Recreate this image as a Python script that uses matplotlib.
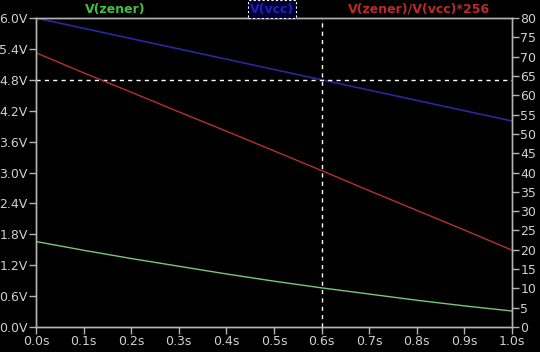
import numpy as np
import matplotlib
matplotlib.use("Agg")
import matplotlib.pyplot as plt

# -----------------------------
# 数据
# -----------------------------
t = [0.0, 0.1, 0.2, 0.3, 0.4, 0.5, 0.6, 0.7, 0.8, 0.9, 1.0]
v_zener = [1.66, 1.49, 1.33, 1.18, 1.03, 0.89, 0.76, 0.64, 0.52, 0.41, 0.31]
v_vcc = [6.0, 5.8, 5.6, 5.4, 5.2, 5.0, 4.8, 4.6, 4.4, 4.2, 4.0]
ratio_256 = [71.0, 65.8, 60.8, 55.7, 50.7, 45.6, 40.5, 35.3, 30.2, 25.1, 19.9]

x_ticks = [0.0, 0.1, 0.2, 0.3, 0.4, 0.5, 0.6, 0.7, 0.8, 0.9, 1.0]
y_left_ticks = [0.0, 0.6, 1.2, 1.8, 2.4, 3.0, 3.6, 4.2, 4.8, 5.4, 6.0]
y_right_ticks = list(range(0, 85, 5))

cursor_t = 0.6
cursor_v = 4.8

GRAY = "#b4b4b4"
TXT = "#d0d0d0"

# -----------------------------
# 绘图
# -----------------------------
fig = plt.figure(figsize=(5.4, 3.52), dpi=100, facecolor="black")
ax = fig.add_axes([36 / 540, 25 / 352, 476 / 540, 309 / 352])
ax.set_facecolor("black")
ax2 = ax.twinx()

ax.plot(t, v_zener, color="#78c878", lw=1.0)
ax.plot(t, v_vcc, color="#2828a0", lw=1.2)
ax2.plot(t, ratio_256, color="#b83030", lw=1.0)

# cursors
ax.axvline(cursor_t, color="white", lw=1.0, ls=(0, (3, 3)))
ax.axhline(cursor_v, color="white", lw=1.0, ls=(0, (3, 3)))

ax.set_xlim(0, 1.0)
ax.set_ylim(0, 6.0)
ax2.set_ylim(0, 80)

ax.set_xticks(x_ticks)
ax.set_xticklabels([f"{v:.1f}s" for v in x_ticks])
ax.set_yticks(y_left_ticks)
ax.set_yticklabels([f"{v:.1f}V" for v in y_left_ticks])
ax2.set_yticks(y_right_ticks)
ax2.set_yticklabels([str(v) for v in y_right_ticks])

for a in (ax, ax2):
    for s in a.spines.values():
        s.set_color(GRAY)
        s.set_linewidth(1.0)
    a.tick_params(colors=GRAY, labelcolor=TXT, labelsize=9, length=5, width=1, pad=1)

# trace labels
fig.text(115 / 540, 1 - 9 / 352, "V(zener)", color="#40c040", fontsize=9,
         fontweight="bold", ha="center", va="center")
fig.text(272 / 540, 1 - 9 / 352, "V(vcc)", color="#2020c0", fontsize=9,
         fontweight="bold", ha="center", va="center",
         bbox=dict(facecolor="#000030", edgecolor="white", linestyle=(0, (2, 2)),
                   lw=0.8, pad=1.5))
fig.text(490 / 540, 1 - 9 / 352, "V(zener)/V(vcc)*256", color="#c02828", fontsize=9,
         fontweight="bold", ha="right", va="center")

fig.savefig("out.png", dpi=100, facecolor="black")
